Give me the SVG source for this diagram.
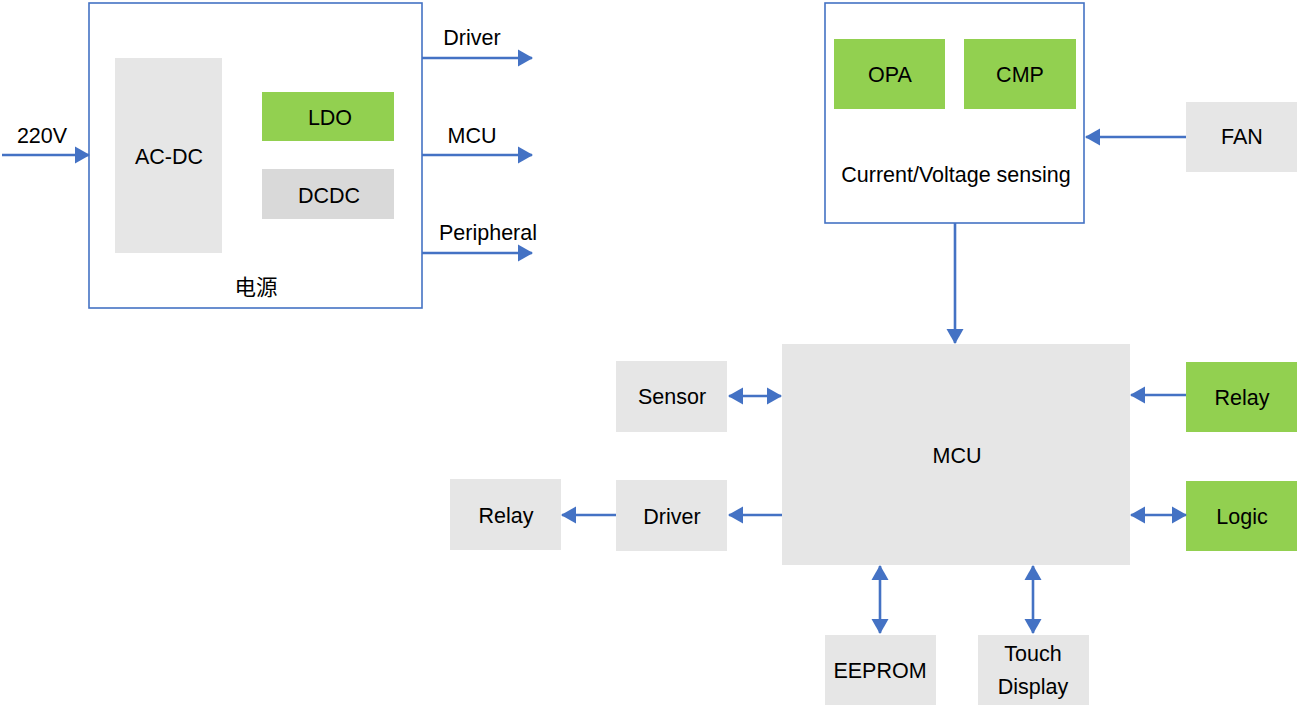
<svg xmlns="http://www.w3.org/2000/svg" width="1300" height="721" viewBox="0 0 1300 721">
<style>
text{font-family:"Liberation Sans","Noto Sans CJK SC",sans-serif;font-size:21.5px;fill:#000;text-anchor:middle}
.frame{fill:#fff;stroke:#4472C4;stroke-width:1.6}
.gray{fill:#E6E6E6}
.dark{fill:#D9D9D9}
.green{fill:#92D050}
.c{stroke:#4472C4;stroke-width:2.6;fill:none}
.e{marker-end:url(#ah)}
.b{marker-start:url(#ah);marker-end:url(#ah)}
</style>
<defs>
<marker id="ah" markerUnits="userSpaceOnUse" markerWidth="15" markerHeight="18" viewBox="0 0 15 18" refX="14" refY="9" orient="auto-start-reverse">
<path d="M0,0.5 L15,9 L0,17.5 z" fill="#4472C4"/>
</marker>
</defs>
<rect width="1300" height="721" fill="#fff"/>
<g id="power">
<rect class="frame" x="89" y="3" width="333" height="305"/>
<text x="256" y="295">电源</text>
</g>
<g id="acdc"><rect class="gray" x="115" y="58" width="107" height="195"/><text x="169" y="164">AC-DC</text></g>
<g id="ldo"><rect class="green" x="262" y="92" width="132" height="49"/><text x="330" y="125">LDO</text></g>
<g id="dcdc"><rect class="dark" x="262" y="169" width="132" height="50"/><text x="329" y="203">DCDC</text></g>
<g id="sensing">
<rect class="frame" x="825" y="3" width="259" height="220"/>
<text x="956" y="182">Current/Voltage sensing</text>
</g>
<g id="opa"><rect class="green" x="834" y="39" width="111" height="70"/><text x="890" y="82">OPA</text></g>
<g id="cmp"><rect class="green" x="964" y="39" width="112" height="70"/><text x="1020" y="82">CMP</text></g>
<g id="fan"><rect class="gray" x="1186" y="102" width="111" height="70"/><text x="1242" y="144">FAN</text></g>
<g id="mcu"><rect class="gray" x="782" y="344" width="348" height="221"/><text x="957" y="463">MCU</text></g>
<g id="sensor"><rect class="gray" x="616" y="361" width="111" height="71"/><text x="672" y="404">Sensor</text></g>
<g id="driver"><rect class="gray" x="616" y="480" width="111" height="71"/><text x="672" y="524">Driver</text></g>
<g id="relayL"><rect class="gray" x="450" y="479" width="111" height="71"/><text x="506" y="523">Relay</text></g>
<g id="relayR"><rect class="green" x="1186" y="362" width="111" height="70"/><text x="1242" y="405">Relay</text></g>
<g id="logic"><rect class="green" x="1186" y="481" width="111" height="70"/><text x="1242" y="524">Logic</text></g>
<g id="eeprom"><rect class="gray" x="825" y="635" width="111" height="70"/><text x="880" y="678">EEPROM</text></g>
<g id="touch"><rect class="gray" x="978" y="635" width="111" height="70"/><text x="1033" y="661">Touch</text><text x="1033" y="694">Display</text></g>
<g id="connectors">
<line class="c e" x1="2" y1="155" x2="89" y2="155"/>
<text x="42" y="143">220V</text>
<line class="c e" x1="422" y1="58" x2="532" y2="58"/>
<text x="472" y="45">Driver</text>
<line class="c e" x1="422" y1="155" x2="532" y2="155"/>
<text x="472" y="143">MCU</text>
<line class="c e" x1="422" y1="253" x2="532" y2="253"/>
<text x="488" y="240">Peripheral</text>
<line class="c e" x1="1186" y1="137" x2="1086" y2="137"/>
<line class="c e" x1="955" y1="223" x2="955" y2="343"/>
<line class="c b" x1="729" y1="396" x2="781" y2="396"/>
<line class="c e" x1="782" y1="515" x2="729" y2="515"/>
<line class="c e" x1="616" y1="515" x2="562" y2="515"/>
<line class="c e" x1="1186" y1="395" x2="1131" y2="395"/>
<line class="c b" x1="1131" y1="515" x2="1186" y2="515"/>
<line class="c b" x1="880" y1="566" x2="880" y2="633"/>
<line class="c b" x1="1033" y1="566" x2="1033" y2="633"/>
</g>
</svg>
